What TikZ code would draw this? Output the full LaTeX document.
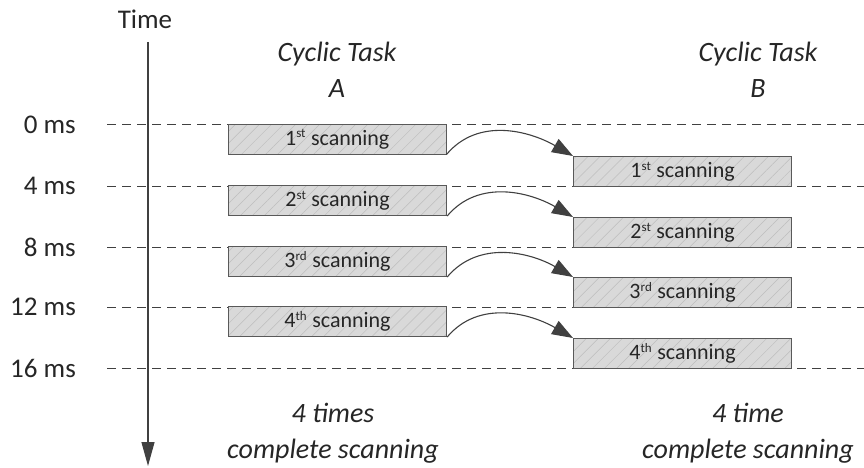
\documentclass[tikz,border=0pt]{standalone}
\usepackage{fontspec}
\setmainfont{Carlito}
\usetikzlibrary{arrows.meta,patterns.meta}
\definecolor{ink}{HTML}{262626}
\definecolor{edge}{HTML}{595959}
\definecolor{gridc}{HTML}{404040}
\definecolor{boxfill}{HTML}{D9D9D9}
\definecolor{hatch}{HTML}{BDBDBD}
\begin{document}
\begin{tikzpicture}[x=1pt,y=1pt,
  scanbox/.style={draw=edge, line width=1.1pt, preaction={fill=boxfill},
    pattern={Lines[angle=45,distance=8.5pt,line width=0.5pt]}, pattern color=hatch,
    minimum width=218pt, minimum height=30pt, anchor=north west, inner sep=0pt,
    font=\fontsize{22}{24}\selectfont, text=ink},
  mslabel/.style={anchor=east, font=\fontsize{27}{30}\selectfont, text=ink, inner sep=0pt},
  title/.style={align=center, font=\fontsize{28}{36}\selectfont\itshape, text=ink, inner sep=0pt},
  gridline/.style={draw=gridc, line width=1pt, dash pattern=on 9pt off 6pt},
  handoff/.style={draw=gridc, line width=1.1pt, -{Triangle[length=21pt,width=15pt]}},
  axis/.style={draw=gridc, line width=1.2pt, -{Triangle[length=24pt,width=13pt]}}
]
\useasboundingbox (0,0) rectangle (864,-468);

% time axis
\node[font=\fontsize{27}{30}\selectfont, text=ink] (time) at (145,-19) {Time};
\coordinate (ttop) at (148,-42);
\coordinate (tbot) at (148,-466);
\draw[axis] (ttop) -- (tbot);

% time marks and dashed grid lines
\foreach \n/\t/\y in {0/0 ms/125, 1/4 ms/186, 2/8 ms/247, 3/12 ms/307, 4/16 ms/368}{
  \node[mslabel] (ms\n) at (76,-\y) {\t};
  \coordinate (gl\n) at (107,-\y);
  \coordinate (gr\n) at (864,-\y);
  \draw[gridline] (gl\n) -- (gr\n);
}

% column headings
\node[title] (ta) at (337,-70) {Cyclic Task\\A};
\node[title] (tb) at (758,-70) {Cyclic Task\\B};

% scanning boxes of task A and task B
\foreach \n/\s/\y in {1/st/124, 2/st/185, 3/rd/246, 4/th/306}{
  \node[scanbox] (a\n) at (228,-\y) {\n\textsuperscript{\fontsize{13}{13}\selectfont\s} scanning};
}
\foreach \n/\s/\y in {1/st/156, 2/st/217, 3/rd/277, 4/th/338}{
  \node[scanbox] (b\n) at (573,-\y) {\n\textsuperscript{\fontsize{13}{13}\selectfont\s} scanning};
}

% hand-over arrows
\foreach \n in {1,2,3,4}{
  \draw[handoff] (a\n.south east) to[out=50,in=150] (b\n.north west);
}

% footers
\node[title] (fa) at (333,-433) {4 times\\complete scanning};
\node[title] (fb) at (748,-433) {4 time\\complete scanning};
\end{tikzpicture}
\end{document}
